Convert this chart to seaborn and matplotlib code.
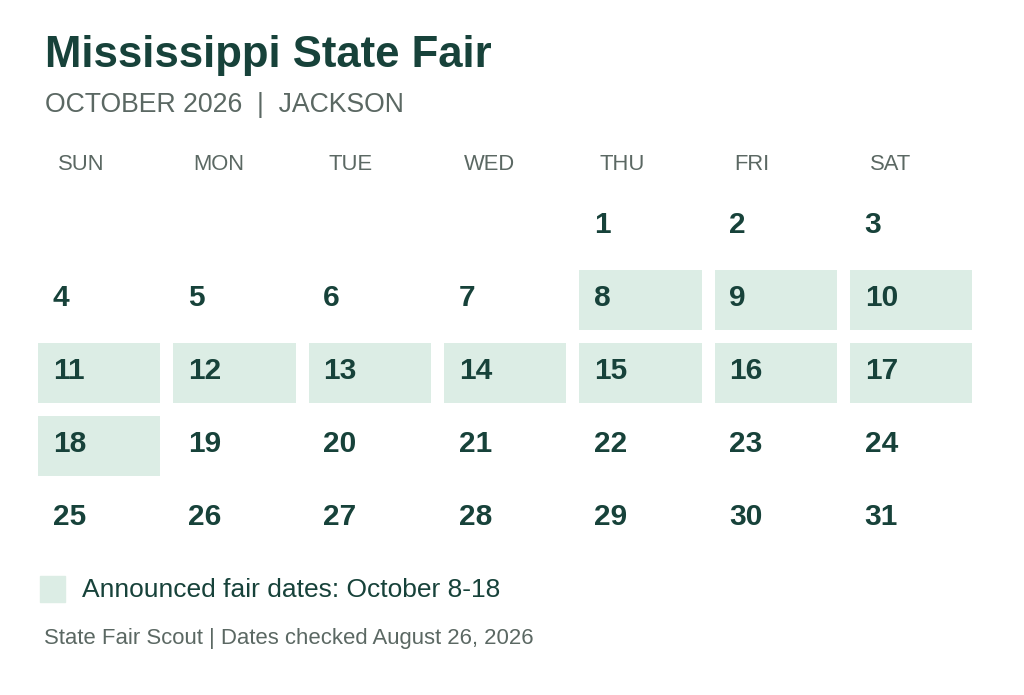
import numpy as np
import pandas as pd
import seaborn as sns
import matplotlib
matplotlib.use("Agg")
import matplotlib.pyplot as plt
import calendar

# ---- data ----
title = "Mississippi State Fair"
subtitle = "OCTOBER 2026  |  JACKSON"
weekdays = ["SUN", "MON", "TUE", "WED", "THU", "FRI", "SAT"]
year = 2026
month = 10
fair_start = 8
fair_end = 18
legend_label = "Announced fair dates: October 8-18"
footer = "State Fair Scout | Dates checked August 26, 2026"

# ---- styling ----
DARK = "#17423a"
GRAY = "#5b6863"
HIGHLIGHT = "#dcede5"

sns.set_theme(style="white")
plt.rcParams["font.family"] = ["Liberation Sans", "DejaVu Sans"]

W, H = 1024, 695
fig = plt.figure(figsize=(W / 100, H / 100), dpi=100)
fig.patch.set_facecolor("white")

# calendar matrix (Sunday first)
cal = calendar.Calendar(firstweekday=6)
weeks = cal.monthdayscalendar(year, month)
n_rows = len(weeks)
days = np.array(weeks)
fair = np.where((days >= fair_start) & (days <= fair_end), 1.0, np.nan)
df = pd.DataFrame(fair, columns=weekdays)

# axes geometry in pixels
pitch_x, pitch_y = 135.33, 73.0
left_px = 31.0
top_px = 189.5
ax_w = 7 * pitch_x
ax_h = n_rows * pitch_y
ax = fig.add_axes([left_px / W, 1 - (top_px + ax_h) / H, ax_w / W, ax_h / H])

gap_px = 11.2
lw_pt = gap_px * 72 / 100
sns.heatmap(df, ax=ax, mask=df.isna(), cmap=matplotlib.colors.ListedColormap([HIGHLIGHT]),
            cbar=False, linewidths=lw_pt, linecolor="white", xticklabels=False, yticklabels=False)
ax.set_xlim(0, 7)
ax.set_ylim(n_rows, 0)
for s in ax.spines.values():
    s.set_visible(False)

for r, week in enumerate(weeks):
    for c, d in enumerate(week):
        if d == 0:
            continue
        ax.text(c + 0.16, r + 0.6, str(d), ha="left", va="baseline",
                fontsize=21.5, fontweight="bold", color=DARK)

# weekday headers
for c, name in enumerate(weekdays):
    ax.text(c + 0.2, (170 - top_px) / pitch_y, name, ha="left", va="baseline",
            fontsize=15.8, color=GRAY, clip_on=False)

def fy(px):
    return 1 - px / H

fig.text(45 / W, fy(67), title, fontsize=31.5, fontweight="bold", color=DARK, va="baseline")
fig.text(45 / W, fy(111.5), subtitle, fontsize=19.2, color=GRAY, va="baseline")

# legend
fig.patches.append(matplotlib.patches.Rectangle((40 / W, fy(602)), 25 / W, 26 / H,
                                                transform=fig.transFigure, color=HIGHLIGHT))
fig.text(82 / W, fy(597), legend_label, fontsize=19, color=DARK, va="baseline")
fig.text(44 / W, fy(644), footer, fontsize=15.9, color=GRAY, va="baseline")

fig.savefig("out.png", dpi=100, facecolor="white")
